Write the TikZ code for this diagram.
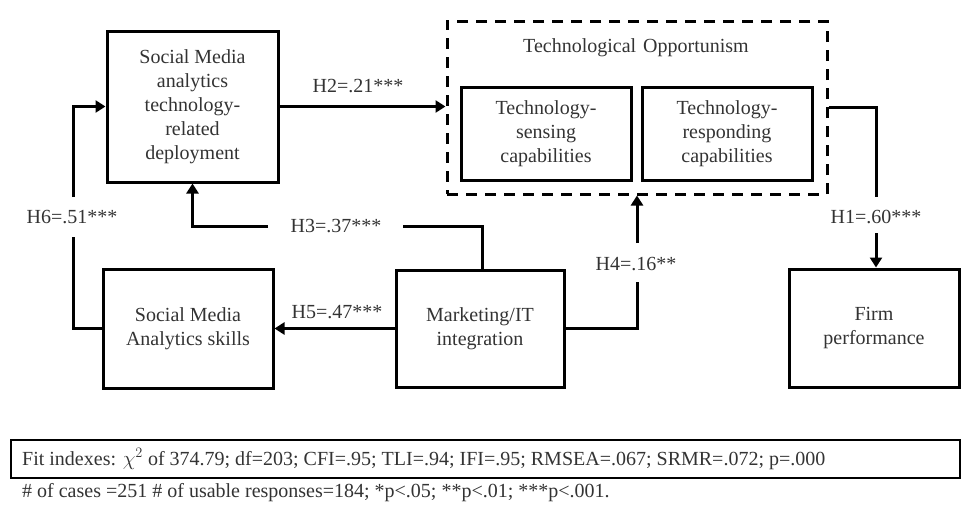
\documentclass[tikz,border=0pt]{standalone}
\usepackage{fontspec}
\setmainfont{Liberation Serif}
\usetikzlibrary{arrows.meta}
\definecolor{txt}{HTML}{333333}
\begin{document}
\begin{tikzpicture}[x=1pt,y=-1pt,
  box/.style={draw=black, line width=3pt, align=center, inner sep=0pt,
    font=\fontsize{20}{24}\selectfont, text=txt},
  conn/.style={draw=black, line width=3pt},
  arr/.style={conn, -{Triangle[width=12pt,length=10pt]}},
  lab/.style={font=\fontsize{20}{24}\selectfont, text=txt, inner sep=1pt},
  note/.style={font=\fontsize{20}{23}\selectfont, text=txt, inner sep=0pt, anchor=west}]
\useasboundingbox (0,0) rectangle (961,506);
% boxes
\node[box, minimum width=171pt, minimum height=151pt] (sma) at (192.5,106.5)
  {Social Media\\analytics\\technology-\\related\\deployment};
\node[box, minimum width=170pt, minimum height=119pt] (skills) at (188,328.5)
  {Social Media\\Analytics skills};
\node[box, minimum width=168pt, minimum height=117pt] (mit) at (480,328.5)
  {Marketing/IT\\integration};
\node[box, minimum width=170pt, minimum height=118pt] (firm) at (874,328)
  {Firm\\performance};
\node[draw=black, line width=3pt, dash pattern=on 11pt off 8pt,
  minimum width=380pt, minimum height=173pt, inner sep=0pt] (to) at (637,107.5) {};
\node[lab] (totitle) at (636,48) {Technological\hspace{0.35em}Opportunism};
\node[box, minimum width=170pt, minimum height=93pt] (sense) at (546,133.5)
  {Technology-\\sensing\\capabilities};
\node[box, minimum width=170pt, minimum height=93pt] (resp) at (727,133.5)
  {Technology-\\responding\\capabilities};
% free ends of connectors around labels
\coordinate (h3a) at (403,226);
\coordinate (h3b) at (268,226);
\coordinate (h4a) at (637,282);
\coordinate (h4b) at (637,243);
\coordinate (h6a) at (73,237);
\coordinate (h6b) at (73,197);
\coordinate (h1a) at (876,197);
\coordinate (h1b) at (876,233);
% connectors
\draw[arr] (sma.east) -- (sma.east -| to.west);
\draw[conn] ([xshift=2pt]mit.north) |- (h3a);
\draw[arr] (h3b) -| (sma.south);
\draw[conn] (mit.east) -| (h4a);
\draw[arr] (h4b) -- (to.south);
\draw[arr] (mit.west) -- (skills.east);
\draw[conn] (skills.west) -| (h6a);
\draw[arr] (h6b) |- (sma.west);
\draw[conn] (to.east) -| (h1a);
\draw[arr] (h1b) -- (h1b |- firm.north);
% labels
\node[lab] (h2) at (358,86) {H2=.21***};
\node[lab] (h3) at (336,226) {H3=.37***};
\node[lab] (h4) at (636,264) {H4=.16**};
\node[lab] (h5) at (337,312) {H5=.47***};
\node[lab] (h6) at (72,217) {H6=.51***};
\node[lab] (h1) at (876,217) {H1=.60***};
% fit box and notes
\node[draw=black, line width=1.6pt, minimum width=949pt, minimum height=38pt, inner sep=0pt] (fit) at (485.5,459) {};
\node[note] (fittext) at (22,459) {Fit indexes: $\chi^{2}$ of 374.79; df=203; CFI=.95; TLI=.94; IFI=.95; RMSEA=.067; SRMR=.072; p=.000};
\node[note] (cases) at (22,493) {\# of cases =251 \# of usable responses=184; *p<.05; **p<.01; ***p<.001.};
\end{tikzpicture}
\end{document}
